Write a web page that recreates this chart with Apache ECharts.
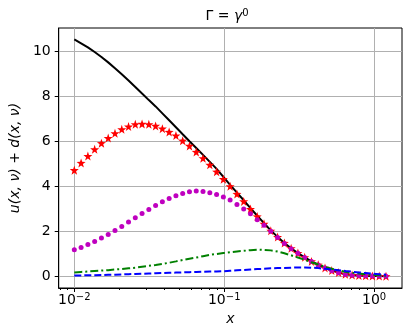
<!DOCTYPE html>
<html>
<head>
<meta charset="utf-8">
<script src="https://cdn.jsdelivr.net/npm/echarts@6/dist/echarts.min.js"></script>
<style>
html, body { margin: 0; padding: 0; background: #fff; }
#container { width: 409px; height: 335px; }
</style>
</head>
<body>
<div id="container"></div>
<script>
// x grid (log spaced)
var xValues = [0.01, 0.0111, 0.01232, 0.01367, 0.01517, 0.01683, 0.01868, 0.02073, 0.023, 0.02552,
    0.02831, 0.03142, 0.03486, 0.03868, 0.04292, 0.04764, 0.05284, 0.05864, 0.06508, 0.07221,
    0.08017, 0.08896, 0.09872, 0.1095, 0.1216, 0.1349, 0.1497, 0.1661, 0.1843, 0.2045,
    0.227, 0.2519, 0.2795, 0.3102, 0.3442, 0.3819, 0.4238, 0.4703, 0.5219, 0.5792,
    0.6427, 0.7132, 0.7914, 0.8782, 0.9745, 1.0814, 1.2];

// black solid line
var blackValues = [10.54, 10.37, 10.19, 9.98, 9.76, 9.52, 9.26, 8.99, 8.71, 8.42,
    8.13, 7.84, 7.56, 7.25, 6.94, 6.63, 6.32, 6.01, 5.71, 5.40,
    5.09, 4.78, 4.42, 4.07, 3.72, 3.38, 3.03, 2.69, 2.36, 2.04,
    1.75, 1.48, 1.24, 1.03, 0.84, 0.66, 0.51, 0.37, 0.25, 0.16,
    0.09, 0.05, 0.03, 0.02, 0.01, 0.005, 0.0];

// red stars
var starValues = [4.72, 5.04, 5.35, 5.65, 5.92, 6.15, 6.36, 6.54, 6.66, 6.76,
    6.78, 6.76, 6.69, 6.57, 6.42, 6.26, 6.03, 5.80, 5.53, 5.25,
    4.96, 4.65, 4.32, 4.00, 3.66, 3.33, 2.99, 2.66, 2.33, 2.02,
    1.74, 1.48, 1.24, 1.03, 0.84, 0.66, 0.51, 0.37, 0.25, 0.16,
    0.09, 0.05, 0.03, 0.02, 0.01, 0.005, 0.0];

// magenta dots
var dotValues = [1.18, 1.28, 1.41, 1.55, 1.70, 1.86, 2.04, 2.21, 2.41, 2.60,
    2.79, 2.97, 3.15, 3.31, 3.46, 3.58, 3.68, 3.76, 3.79, 3.77,
    3.72, 3.64, 3.53, 3.39, 3.19, 2.99, 2.78, 2.51, 2.27, 2.00,
    1.72, 1.46, 1.22, 1.02, 0.83, 0.65, 0.50, 0.36, 0.24, 0.15,
    0.08, 0.04, 0.03, 0.02, 0.01, 0.005, 0.0];

// green dash-dot
var greenValues = [0.17, 0.19, 0.21, 0.23, 0.25, 0.27, 0.30, 0.32, 0.35, 0.38,
    0.42, 0.46, 0.50, 0.55, 0.60, 0.66, 0.72, 0.78, 0.83, 0.89,
    0.95, 0.99, 1.03, 1.07, 1.10, 1.13, 1.16, 1.18, 1.17, 1.15,
    1.10, 1.02, 0.93, 0.83, 0.73, 0.62, 0.52, 0.42, 0.33, 0.26,
    0.20, 0.15, 0.12, 0.09, 0.06, 0.04, 0.02];

// blue dashed
var blueValues = [0.03, 0.035, 0.04, 0.045, 0.05, 0.06, 0.07, 0.08, 0.09, 0.10,
    0.11, 0.12, 0.13, 0.14, 0.15, 0.16, 0.17, 0.18, 0.19, 0.20,
    0.21, 0.21, 0.22, 0.24, 0.26, 0.28, 0.30, 0.32, 0.33, 0.35,
    0.36, 0.37, 0.38, 0.39, 0.39, 0.38, 0.36, 0.33, 0.30, 0.27,
    0.23, 0.20, 0.17, 0.14, 0.11, 0.09, 0.07];

var xMajorTicks = [0.01, 0.1, 1];
var yTicks = [0, 2, 4, 6, 8, 10];

var FONT = 'DejaVu Sans';
var STAR = 'path://M0,-10 L2.35,-3.24 L9.51,-3.09 L3.8,1.24 L5.88,8.09 L0,4 L-5.88,8.09 L-3.8,1.24 L-9.51,-3.09 L-2.35,-3.24 Z';

function pairs(ys) {
    var out = [];
    for (var i = 0; i < xValues.length; i++) {
        out.push([Math.log10(xValues[i]), ys[i]]);
    }
    return out;
}

var majorLog = xMajorTicks.map(function (v) { return Math.log10(v); });
var minorLog = [];
for (var d = -3; d <= 0; d++) {
    for (var k = 2; k <= 9; k++) {
        minorLog.push(d + Math.log10(k));
    }
}

var dom = document.getElementById("container");
var myChart = echarts.init(dom, null, { renderer: 'canvas' });
var option = {
    animation: false,
    backgroundColor: '#fff',
    grid: {
        left: 52, right: 7, top: 28, bottom: 47,
        show: true, borderColor: '#000', borderWidth: 1, backgroundColor: 'transparent'
    },
    graphic: [{
        type: 'text',
        x: 227, y: 8,
        style: {
            text: '{a|Γ = }{g|γ}{s|0}',
            align: 'center',
            rich: {
                a: { fontFamily: FONT, fontSize: 14, color: '#000' },
                g: { fontFamily: FONT, fontSize: 14, fontStyle: 'italic', color: '#000' },
                s: { fontFamily: FONT, fontSize: 10, color: '#000', verticalAlign: 'bottom', padding: [0, 0, 7, 0] }
            }
        }
    }],
    xAxis: [{
        type: 'value',
        min: -2.104, max: 0.186,
        name: 'x',
        nameLocation: 'middle',
        nameGap: 24,
        nameTextStyle: { fontFamily: FONT, fontSize: 14, fontStyle: 'italic', color: '#000' },
        axisLine: { show: true, onZero: false, lineStyle: { color: '#000', width: 1 } },
        axisTick: { show: true, customValues: majorLog, length: 4, lineStyle: { color: '#000' } },
        axisLabel: {
            customValues: majorLog,
            margin: 4,
            formatter: function (v) {
                var e = Math.round(v);
                var s = e < 0 ? '\u2212' + Math.abs(e) : String(e);
                return '{b|10}{s|' + s + '}';
            },
            rich: {
                b: { fontFamily: FONT, fontSize: 14, color: '#000' },
                s: { fontFamily: FONT, fontSize: 10, color: '#000', verticalAlign: 'bottom', padding: [0, 0, 7, 0] }
            }
        },
        splitLine: { show: true, lineStyle: { color: '#b0b0b0', width: 1 } }
    }, {
        type: 'value',
        position: 'bottom',
        min: -2.104, max: 0.186,
        axisLine: { show: false, onZero: false },
        axisTick: { show: true, customValues: minorLog, length: 2, lineStyle: { color: '#000' } },
        axisLabel: { show: false },
        splitLine: { show: false }
    }],
    yAxis: {
        type: 'value',
        min: -0.525, max: 11.05,
        name: 'u(x, ν) + d(x, ν)',
        nameLocation: 'middle',
        nameRotate: 90,
        nameGap: 32,
        nameTextStyle: { fontFamily: FONT, fontSize: 14, fontStyle: 'italic', color: '#000' },
        axisLine: { show: true, onZero: false, lineStyle: { color: '#000', width: 1 } },
        axisTick: { show: true, customValues: yTicks, length: 4, lineStyle: { color: '#000' } },
        axisLabel: { customValues: yTicks, margin: 8, fontFamily: FONT, fontSize: 14, color: '#000' },
        splitLine: { show: true, lineStyle: { color: '#b0b0b0', width: 1 } }
    },
    series: [{
        name: 'black', type: 'line', data: pairs(blackValues),
        showSymbol: false, lineStyle: { color: '#000', width: 2 }, z: 2
    }, {
        name: 'stars', type: 'scatter', data: pairs(starValues),
        symbol: STAR, symbolSize: 9, itemStyle: { color: '#ff0000', opacity: 1 }, z: 3
    }, {
        name: 'dots', type: 'scatter', data: pairs(dotValues),
        symbol: 'circle', symbolSize: 5, itemStyle: { color: '#bf00bf', opacity: 1 }, z: 4
    }, {
        name: 'green', type: 'line', data: pairs(greenValues),
        showSymbol: false, lineStyle: { color: '#008000', width: 2, type: [8, 3, 2, 3] }, z: 5
    }, {
        name: 'blue', type: 'line', data: pairs(blueValues),
        showSymbol: false, lineStyle: { color: '#0000ff', width: 2, type: [7, 3] }, z: 6
    }]
};
if (option && typeof option === "object") {
    myChart.setOption(option, true);
}
</script>
</body>
</html>
